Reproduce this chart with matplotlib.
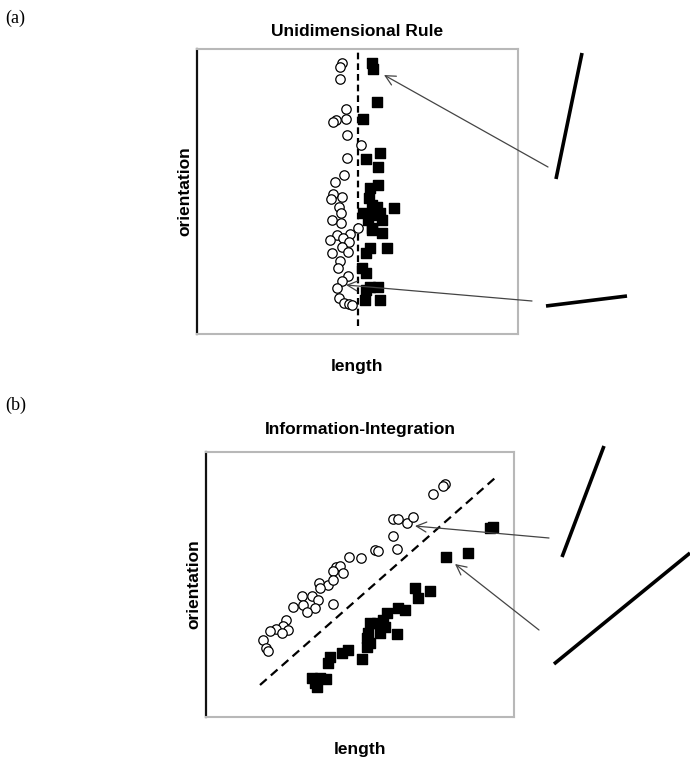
import matplotlib
matplotlib.use("Agg")
import matplotlib.pyplot as plt
import numpy as np

# ---------------- data (length, orientation) ----------------
# Panel (a): Unidimensional rule
a_open_len = [145,143,143,149,149,139,136,150,164,150,147,138,145,136,134,142,144,135,144,161,140,153,146,133,152,145,151,135,143,141,151,145,140,142,147,152,155]
a_open_ori = [271,267,255,225,215,214,212,199,189,176,159,152,137,140,135,127,121,114,111,106,99,100,96,94,92,87,82,81,73,66,58,53,46,36,31,30,29]
a_fill_len = [175,176,180,166,183,169,181,181,173,172,175,180,197,166,175,183,185,171,175,185,175,173,169,190,165,169,173,181,169,168,183]
a_fill_ori = [271,265,232,215,181,175,167,149,146,136,129,127,126,121,119,121,114,114,106,101,104,86,81,86,66,61,47,47,44,34,34]
a_bound_len = [161, 161]
a_bound_ori = [8, 284]

# Panel (b): Information-integration
b_open_len = [239,237,227,187,192,201,207,187,191,169,172,143,155,130,134,127,137,113,122,127,114,96,106,112,109,97,101,127,87,80,77,82,70,64,76,57,60,62]
b_open_ori = [233,231,223,198,198,194,200,181,168,167,166,160,159,150,151,146,144,134,132,137,129,121,121,117,109,112,105,113,110,97,91,87,88,86,84,77,69,66]
b_fill_len = [287,284,240,262,209,224,212,192,199,181,177,171,164,179,174,162,191,161,164,161,142,136,156,124,122,114,106,120,111,109]
b_fill_ori = [190,189,160,164,129,126,119,109,107,104,97,94,94,90,84,84,83,79,74,70,67,64,58,60,54,39,39,38,30,34]
b_bound_len = [54, 289]
b_bound_ori = [32, 239]

# Stimulus lines and arrows (figure pixel coordinates of the illustration)
stim_lines = [((582, 53), (556, 179)), ((546, 306), (627, 296)),
              ((604, 446), (562, 557)), ((554, 664), (690, 553))]
arrows = [((548, 167), (384, 75)), ((532, 301), (346, 285)),
          ((549, 538), (415, 526)), ((539, 630), (455, 564))]

W, H = 690, 760
fig = plt.figure(figsize=(W / 100, H / 100), dpi=100)
plt.rcParams['font.family'] = ['Liberation Sans', 'DejaVu Sans']

def style_axes(ax):
    ax.set_xticks([])
    ax.set_yticks([])
    for s in ['top', 'right', 'bottom']:
        ax.spines[s].set_color('#b8b8b8')
        ax.spines[s].set_linewidth(1.5)
    ax.spines['left'].set_color('#111111')
    ax.spines['left'].set_linewidth(1.6)

# Panel (a)
axA = fig.add_axes([197 / W, 1 - 334 / H, 321 / W, 285 / H])
axA.set_xlim(0, 321)
axA.set_ylim(0, 285)
axA.plot(a_bound_len, a_bound_ori, color='black', lw=1.6, dashes=(3, 1.8))
axA.scatter(a_open_len, a_open_ori, s=46, facecolors='white', edgecolors='black', linewidths=0.9, zorder=3)
axA.scatter(a_fill_len, a_fill_ori, s=60, marker='s', color='black', zorder=3)
style_axes(axA)
axA.set_title('Unidimensional Rule', fontsize=12.5, fontweight='bold', pad=9)
axA.set_xlabel('length', fontsize=12.5, fontweight='bold', labelpad=18)
axA.set_ylabel('orientation', fontsize=12.5, fontweight='bold', labelpad=3)

# Panel (b)
axB = fig.add_axes([206 / W, 1 - 717 / H, 308 / W, 265 / H])
axB.set_xlim(0, 308)
axB.set_ylim(0, 265)
axB.plot(b_bound_len, b_bound_ori, color='black', lw=1.6, dashes=(4, 2.5))
axB.scatter(b_open_len, b_open_ori, s=46, facecolors='white', edgecolors='black', linewidths=0.9, zorder=3)
axB.scatter(b_fill_len, b_fill_ori, s=60, marker='s', color='black', zorder=3)
style_axes(axB)
axB.set_title('Information-Integration', fontsize=12.5, fontweight='bold', pad=13)
axB.set_xlabel('length', fontsize=12.5, fontweight='bold', labelpad=18)
axB.set_ylabel('orientation', fontsize=12.5, fontweight='bold', labelpad=3)

# Overlay for stimuli and arrows
ov = fig.add_axes([0, 0, 1, 1], facecolor='none')
ov.set_xlim(0, W)
ov.set_ylim(H, 0)
ov.axis('off')
for (p0, p1) in stim_lines:
    ov.plot([p0[0], p1[0]], [p0[1], p1[1]], color='black', lw=2.6, solid_capstyle='butt')
for (start, end) in arrows:
    ov.annotate('', xy=end, xytext=start,
                arrowprops=dict(arrowstyle='->', color='#444444', lw=0.9,
                                mutation_scale=18, shrinkA=0, shrinkB=0))

fig.text(5 / W, 1 - 18 / H, '(a)', family='Liberation Serif', fontsize=13, va='center', ha='left')
fig.text(5 / W, 1 - 405 / H, '(b)', family='Liberation Serif', fontsize=13, va='center', ha='left')

fig.savefig('out.png', dpi=100)
